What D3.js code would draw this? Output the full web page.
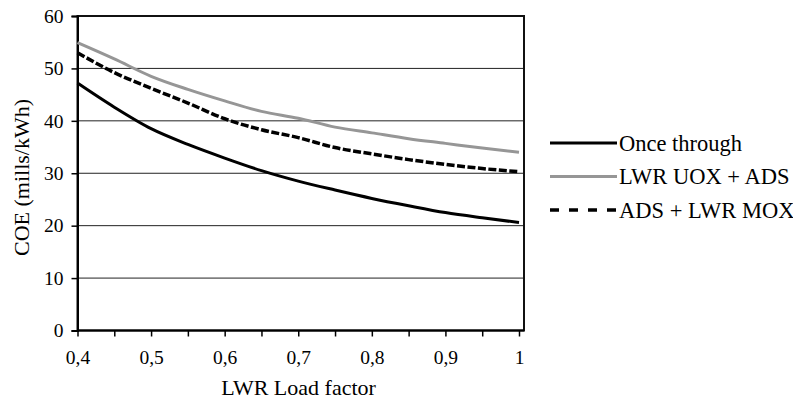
<!DOCTYPE html>
<html>
<head>
<meta charset="utf-8">
<script src="https://cdn.jsdelivr.net/npm/d3@7"></script>
<style>
  html, body { margin: 0; padding: 0; background: #fff; }
  svg { display: block; }
</style>
</head>
<body>
<svg id="chart" width="793" height="407"></svg>
<script>
// LWR load factor (x) and cost of electricity in mills/kWh for each fuel cycle
const loadFactor = [0.40, 0.45, 0.50, 0.55, 0.60, 0.65, 0.70, 0.75, 0.80, 0.85, 0.90, 0.95, 1.00];
const onceThrough = [47.2, 42.6, 38.5, 35.5, 32.9, 30.5, 28.5, 26.8, 25.2, 23.8, 22.5, 21.5, 20.6];
const uoxAds      = [54.9, 51.8, 48.5, 46.0, 43.8, 41.8, 40.5, 38.8, 37.7, 36.6, 35.7, 34.8, 34.0];
const adsMox      = [53.0, 49.2, 46.2, 43.4, 40.4, 38.3, 36.8, 34.9, 33.7, 32.6, 31.7, 30.9, 30.3];
const seriesNames = ["Once through", "LWR UOX + ADS", "ADS + LWR MOX"];
const xTickValues = [0.40, 0.45, 0.50, 0.55, 0.60, 0.65, 0.70, 0.75, 0.80, 0.85, 0.90, 0.95, 1.00];
const xLabelValues = [0.4, 0.5, 0.6, 0.7, 0.8, 0.9, 1.0];
const yTickValues = [0, 10, 20, 30, 40, 50, 60];

const series = [
  { name: seriesNames[0], values: onceThrough, color: "#000", width: 3, dash: null, legendDash: null },
  { name: seriesNames[1], values: uoxAds, color: "#969696", width: 3, dash: null, legendDash: null },
  { name: seriesNames[2], values: adsMox, color: "#000", width: 3.5, dash: "8,2.5", legendDash: "9,10" }
];

const FONT = "'Liberation Serif'";
const svg = d3.select("#chart");
const box = { left: 77.5, right: 524, top: 16, bottom: 330.5 };

const x = d3.scaleLinear().domain([0.4, 1.0]).range([box.left, 519]);
const y = d3.scaleLinear().domain([0, 60]).range([box.bottom, box.top]);

// horizontal gridlines
svg.append("g")
  .selectAll("line")
  .data(yTickValues.filter(v => v > 0 && v < 60))
  .join("line")
  .attr("x1", box.left).attr("x2", box.right)
  .attr("y1", d => y(d)).attr("y2", d => y(d))
  .attr("stroke", "#222").attr("stroke-width", 1);

// plot frame
svg.append("rect")
  .attr("x", box.left).attr("y", box.top)
  .attr("width", box.right - box.left).attr("height", box.bottom - box.top)
  .attr("fill", "none").attr("stroke", "#111").attr("stroke-width", 2);

// y axis
const yAxis = d3.axisLeft(y).tickValues(yTickValues).tickSize(6).tickPadding(8).tickFormat(d3.format("d"));
const gy = svg.append("g").attr("transform", `translate(${box.left},0)`).call(yAxis);
gy.select(".domain").attr("stroke", "#000").attr("stroke-width", 2);
gy.selectAll(".tick line").attr("stroke", "#000").attr("stroke-width", 1.5);
gy.selectAll(".tick text").style("font-family", FONT).style("font-size", "19.5px").attr("fill", "#000");

// x axis: minor ticks every 0.05, labels every 0.1
const fmt = v => (v === 1 ? "1" : d3.format(".1f")(v).replace(".", ","));
const xAxis = d3.axisBottom(x).tickValues(xTickValues).tickSize(6).tickPadding(14)
  .tickFormat(v => xLabelValues.some(l => Math.abs(l - v) < 1e-9) ? fmt(v) : "");
const gx = svg.append("g").attr("transform", `translate(0,${box.bottom})`).call(xAxis);
gx.select(".domain").attr("stroke", "#000").attr("stroke-width", 2)
  .attr("d", `M${box.left},0H${box.right}`);
gx.selectAll(".tick line").attr("stroke", "#000").attr("stroke-width", 1.5);
gx.selectAll(".tick text").style("font-family", FONT).style("font-size", "19.5px").attr("fill", "#000");

// axis titles
svg.append("text")
  .attr("x", 298.5).attr("y", 395)
  .attr("text-anchor", "middle")
  .style("font-family", FONT).style("font-size", "22px")
  .text("LWR Load factor");
svg.append("text")
  .attr("transform", "translate(29,177.5) rotate(-90)")
  .attr("text-anchor", "middle")
  .style("font-family", FONT).style("font-size", "22px")
  .text("COE (mills/kWh)");

// series lines
const line = d3.line()
  .x((d, i) => x(loadFactor[i]))
  .y(d => y(d))
  .curve(d3.curveMonotoneX);

svg.append("g")
  .selectAll("path")
  .data(series)
  .join("path")
  .attr("d", d => line(d.values))
  .attr("fill", "none")
  .attr("stroke", d => d.color)
  .attr("stroke-width", d => d.width)
  .attr("stroke-dasharray", d => d.dash)
  .attr("stroke-linejoin", "round");

// legend
const legendY = d3.scalePoint().domain(seriesNames).range([143, 210]);
const items = svg.append("g").selectAll("g").data(series).join("g")
  .attr("transform", d => `translate(0,${legendY(d.name)})`);
items.append("line")
  .attr("x1", 550).attr("x2", 617).attr("y1", 0).attr("y2", 0)
  .attr("stroke", d => d.color)
  .attr("stroke-width", d => d.width)
  .attr("stroke-dasharray", d => d.legendDash);
items.append("text")
  .attr("x", 619).attr("y", 7.5)
  .style("font-family", FONT).style("font-size", "22.5px")
  .text(d => d.name);
</script>
</body>
</html>
